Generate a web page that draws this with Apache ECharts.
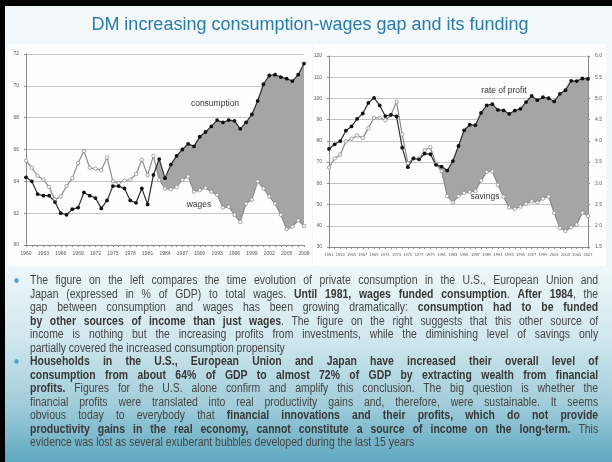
<!DOCTYPE html>
<html>
<head>
<meta charset="utf-8">
<script src="https://cdn.jsdelivr.net/npm/echarts@6/dist/echarts.min.js"></script>
<style>
html, body { margin: 0; padding: 0; background: #000; }
#slide {
    position: absolute; left: 5px; top: 6px; width: 607px; height: 456px;
    background: linear-gradient(to bottom, #f3f9fb 0%, #edf6f8 58%, #d0e7ed 73%, #a3cedb 87%, #5ea8c0 100%);
}
#chart { position: absolute; left: 0; top: 0; width: 612px; height: 462px; }
#notes {
    position: absolute; left: 30px; top: 274px; width: 653px;
    transform: scaleX(0.87); transform-origin: 0 0;
    font-family: "Liberation Sans", Arial, sans-serif; font-size: 12px; line-height: 13.5px;
    color: #454545;
}
#notes div { text-align: justify; text-align-last: justify; white-space: nowrap; }
#notes div.end { text-align-last: left; }
#notes b { color: #383838; }
#notes .bul { position: relative; }
#notes .bul:before {
    content: ""; position: absolute; left: -18px; top: 4px; width: 5px; height: 5px;
    border-radius: 50%; background: #4aa3d2;
}
</style>
</head>
<body>
<div id="slide"></div>
<div id="chart"></div>
<div id="notes">
    <div class="bul">The figure on the left compares the time evolution of private consumption in the U.S., European Union and</div>
    <div>Japan (expressed in % of GDP) to total wages. <b>Until 1981, wages funded consumption</b>. <b>After 1984</b>, the</div>
    <div>gap between consumption and wages has been growing dramatically: <b>consumption had to be funded</b></div>
    <div><b>by other sources of income than just wages</b>. The figure on the right suggests that this other source of</div>
    <div>income is nothing but the increasing profits from investments, while the diminishing level of savings only</div>
    <div class="end">partially covered the increased consumption propensity</div>
    <div class="bul"><b>Households in the U.S., European Union and Japan have increased their overall level of</b></div>
    <div><b>consumption from about 64% of GDP to almost 72% of GDP by extracting wealth from financial</b></div>
    <div><b>profits.</b> Figures for the U.S. alone confirm and amplify this conclusion. The big question is whether the</div>
    <div>financial profits were translated into real productivity gains and, therefore, were sustainable. It seems</div>
    <div>obvious today to everybody that <b>financial innovations and their profits, which do not provide</b></div>
    <div><b>productivity gains in the real economy, cannot constitute a source of income on the long-term.</b> This</div>
    <div class="end">evidence was lost as several exuberant bubbles developed during the last 15 years</div>
</div>
<script>
var leftYears = [1960, 1961, 1962, 1963, 1964, 1965, 1966, 1967, 1968, 1969,
    1970, 1971, 1972, 1973, 1974, 1975, 1976, 1977, 1978, 1979,
    1980, 1981, 1982, 1983, 1984, 1985, 1986, 1987, 1988, 1989,
    1990, 1991, 1992, 1993, 1994, 1995, 1996, 1997, 1998, 1999,
    2000, 2001, 2002, 2003, 2004, 2005, 2006, 2007, 2008];
var consumption = [64.25, 64.0, 63.2, 63.1, 63.1, 62.7, 62.0, 61.9, 62.25, 62.35,
    63.3, 63.1, 62.95, 62.3, 62.8, 63.7, 63.7, 63.55, 62.8, 62.65,
    63.55, 62.55, 64.4, 65.4, 64.2, 65.05, 65.6, 66.0, 66.35, 66.2,
    66.8, 67.1, 67.45, 67.85, 67.7, 67.85, 67.8, 67.3, 67.7, 68.2,
    69.05, 70.1, 70.65, 70.7, 70.55, 70.45, 70.3, 70.7, 71.4];
var wages = [65.3, 64.85, 64.35, 64.1, 63.65, 62.85, 63.05, 63.7, 64.2, 65.15,
    65.9, 64.85, 64.8, 64.7, 65.5, 64.0, 63.9, 64.05, 64.1, 64.45,
    65.35, 64.4, 65.6, 64.1, 63.55, 63.5, 63.65, 64.1, 64.3, 63.35,
    63.45, 63.6, 63.35, 63.15, 62.35, 62.4, 61.9, 61.45, 62.6, 62.85,
    64.0, 63.55, 63.05, 62.6, 61.9, 61.0, 61.15, 61.55, 61.2];

var rightYears = [1961, 1962, 1963, 1964, 1965, 1966, 1967, 1968, 1969,
    1970, 1971, 1972, 1973, 1974, 1975, 1976, 1977, 1978, 1979,
    1980, 1981, 1982, 1983, 1984, 1985, 1986, 1987, 1988, 1989,
    1990, 1991, 1992, 1993, 1994, 1995, 1996, 1997, 1998, 1999,
    2000, 2001, 2002, 2003, 2004, 2005, 2006, 2007];
var profit = [76.2, 78.4, 79.9, 84.8, 86.8, 90.4, 92.9, 97.9, 100.3,
    96.7, 91.7, 92.3, 91.5, 76.8, 67.6, 71.8, 71.3, 74.0, 73.7,
    68.7, 67.9, 66.0, 70.5, 77.6, 85.0, 87.6, 87.4, 93.2, 96.7,
    97.3, 94.6, 94.4, 92.7, 94.3, 95.1, 98.3, 101.2, 99.2, 100.6,
    100.1, 98.6, 102.2, 103.9, 108.3, 108.2, 109.4, 109.2];
var savings = [67.5, 71.7, 73.5, 79.7, 81.0, 82.5, 81.4, 86.0, 90.8,
    90.9, 89.7, 92.2, 98.4, 83.0, 69.5, 71.6, 71.7, 75.6, 77.0,
    69.2, 65.8, 54.0, 51.0, 54.0, 55.5, 56.0, 56.4, 61.3, 65.4,
    65.7, 59.3, 53.7, 48.6, 48.0, 49.0, 50.4, 51.6, 51.0, 52.8,
    53.8, 46.0, 39.0, 37.5, 39.3, 40.6, 46.2, 44.6];

var FONT = "Liberation Sans";

init();

function pairs(years, vals) {
    return years.map(function (y, i) { return [y, vals[i]]; });
}

// gray gap between two lines, from the year where top crosses above bottom
function gapSeries(xi, yi, years, top, bottom, fromYear) {
    return {
        type: "custom",
        xAxisIndex: xi,
        yAxisIndex: yi,
        silent: true,
        z: 1,
        data: [0],
        renderItem: function (params, api) {
            var s = years.indexOf(fromYear);
            var d0 = bottom[s] - top[s];
            var d1 = top[s + 1] - bottom[s + 1];
            var f = d0 / (d0 + d1);
            var pts = [api.coord([years[s] + f, top[s] + f * (top[s + 1] - top[s])])];
            for (var i = s + 1; i < years.length; i++) pts.push(api.coord([years[i], top[i]]));
            for (var j = years.length - 1; j > s; j--) pts.push(api.coord([years[j], bottom[j]]));
            return { type: "polygon", shape: { points: pts }, style: { fill: "#a5a5a5" } };
        },
    };
}

function xAxisOf(grid, min, max, step, minor, size) {
    return {
        type: "value", gridIndex: grid, min: min, max: max, interval: step,
        axisLine: { lineStyle: { color: "#8a8a8a", width: 1 } },
        axisTick: { length: 2, lineStyle: { color: "#8a8a8a" } },
        minorTick: { show: true, splitNumber: minor, length: 2, lineStyle: { color: "#8a8a8a" } },
        splitLine: { show: false },
        axisLabel: { fontSize: size, color: "#555", margin: 6, fontFamily: FONT, formatter: function (v) { return String(v); } },
    };
}

function yAxisOf(grid, min, max, step, pos, fmt, gridLines) {
    return {
        type: "value", gridIndex: grid, min: min, max: max, interval: step, position: pos,
        axisLine: { show: true, lineStyle: { color: "#8a8a8a", width: 1 } },
        axisTick: { show: true, length: 2, lineStyle: { color: "#8a8a8a" } },
        splitLine: { show: gridLines, lineStyle: { color: "#c4c4c4", width: 1 } },
        axisLabel: { fontSize: 5, color: "#555", margin: 7, fontFamily: FONT, formatter: fmt },
    };
}

function lineOf(xi, yi, years, vals, dark) {
    return {
        type: "line", xAxisIndex: xi, yAxisIndex: yi, z: 3,
        data: pairs(years, vals),
        symbol: "circle",
        symbolSize: dark ? 3.8 : 3.4,
        lineStyle: { color: dark ? "#2e2e2e" : "#8c8c8c", width: 1.2 },
        itemStyle: dark ? { color: "#111" } : { color: "#fff", borderColor: "#8c8c8c", borderWidth: 0.8 },
    };
}

function init() {
    var myChart = echarts.init(document.getElementById("chart"));

    var option = {
        animation: false,
        title: {
            text: "DM increasing consumption-wages gap and its funding",
            left: 305, top: 11, textAlign: "center",
            textStyle: { fontSize: 18, fontWeight: "normal", color: "#2a7ba7", fontFamily: FONT },
        },
        graphic: [
            { type: "rect", shape: { x: 8, y: 44, width: 304, height: 222 }, style: { fill: "#fdfefe" }, z: -1 },
            { type: "rect", shape: { x: 313, y: 44, width: 293, height: 222 }, style: { fill: "#fdfefe" }, z: -1 },
            { type: "text", x: 215, y: 104, z: 10, style: { text: "consumption", fill: "#333", font: "8.5px " + FONT, align: "center", verticalAlign: "middle" } },
            { type: "text", x: 199, y: 205, z: 10, style: { text: "wages", fill: "#333", font: "8.5px " + FONT, align: "center", verticalAlign: "middle" } },
            { type: "text", x: 504, y: 91, z: 10, style: { text: "rate of profit", fill: "#333", font: "8.5px " + FONT, align: "center", verticalAlign: "middle" } },
            { type: "text", x: 485, y: 197, z: 10, style: { text: "savings", fill: "#333", font: "8.5px " + FONT, align: "center", verticalAlign: "middle" } },
        ],
        grid: [
            { left: 26, top: 54, width: 278, height: 191 },
            { left: 329, top: 56, width: 259, height: 191 },
        ],
        xAxis: [
            xAxisOf(0, 1960, 2008, 3, 3, 5),
            xAxisOf(1, 1961, 2007, 2, 2, 4),
        ],
        yAxis: [
            yAxisOf(0, 60, 72, 2, "left", null, true),
            yAxisOf(1, 30, 120, 10, "left", null, true),
            yAxisOf(1, 1.5, 6, 0.5, "right", function (v) { return v.toFixed(1); }, false),
        ],
        series: [
            gapSeries(0, 0, leftYears, consumption, wages, 1982),
            lineOf(0, 0, leftYears, wages, false),
            lineOf(0, 0, leftYears, consumption, true),
            gapSeries(1, 1, rightYears, profit, savings, 1980),
            lineOf(1, 1, rightYears, savings, false),
            lineOf(1, 1, rightYears, profit, true),
        ],
    };

    myChart.setOption(option);
    window.addEventListener("resize", function () {
        myChart.resize();
    });
}
</script>
</body>
</html>
